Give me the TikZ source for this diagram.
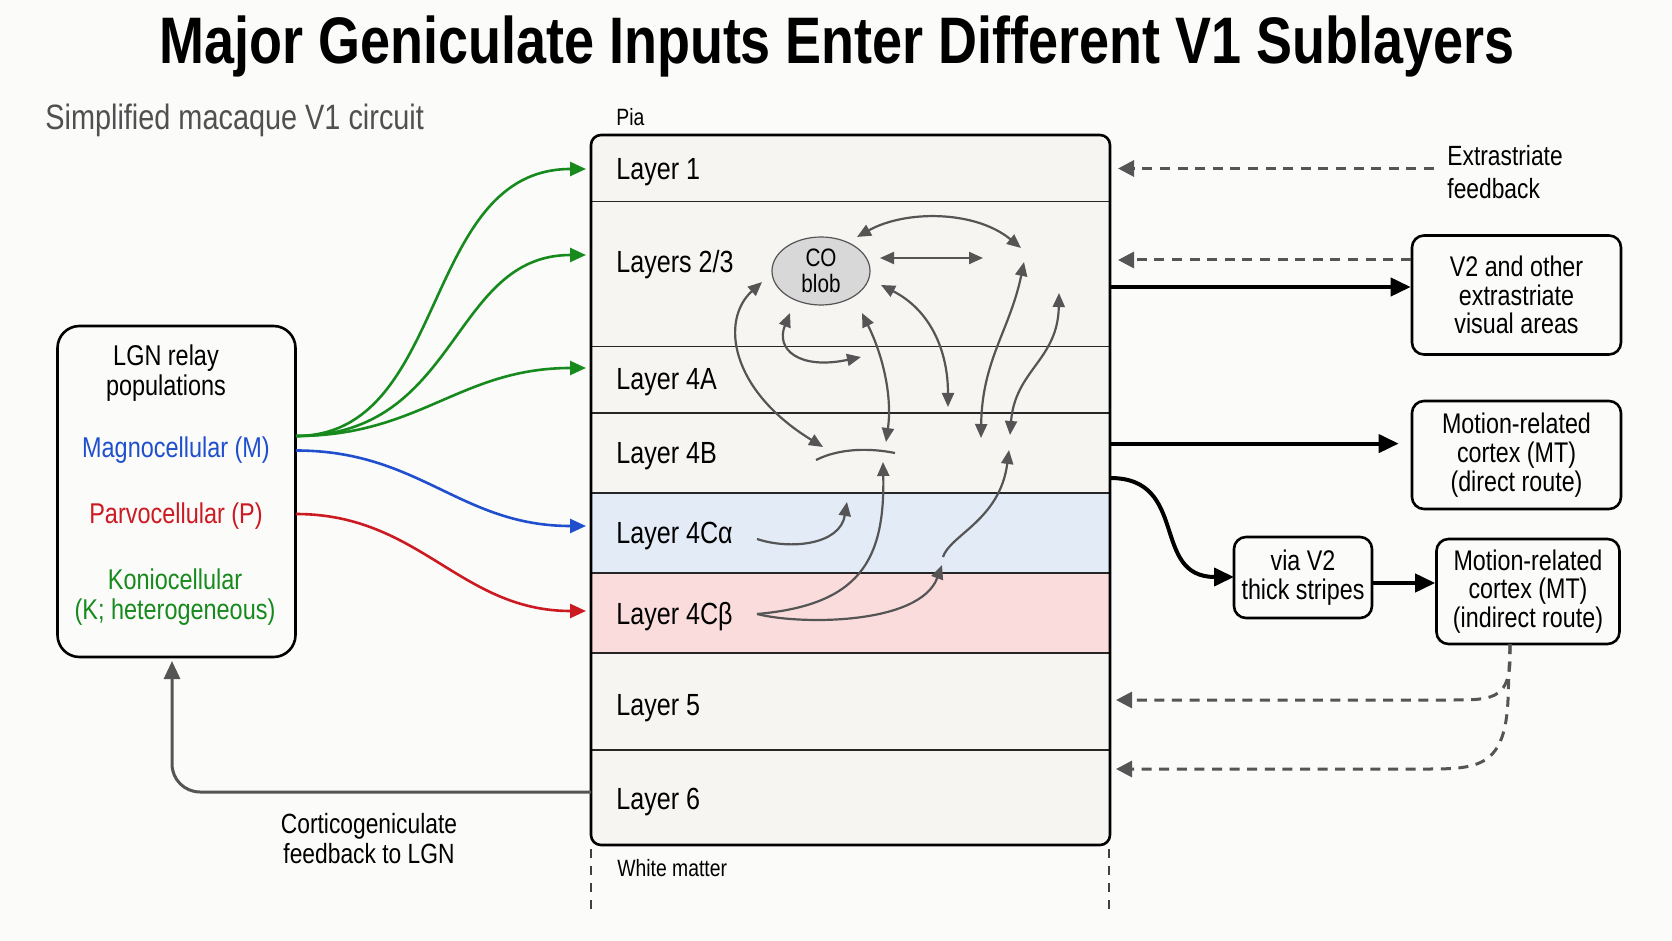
\documentclass[tikz,border=0pt]{standalone}
\usepackage{fontspec}
\setmainfont{Liberation Sans}[FakeStretch=0.82]
\usetikzlibrary{arrows.meta,shapes.geometric}
\definecolor{bgc}{HTML}{FBFBFA}
\definecolor{boxbg}{HTML}{F6F5F2}
\definecolor{alphac}{HTML}{E3EBF6}
\definecolor{betac}{HTML}{F9DCDB}
\definecolor{ggreen}{HTML}{178A1E}
\definecolor{gblue}{HTML}{1F4FCC}
\definecolor{gred}{HTML}{CC1A22}
\definecolor{agray}{HTML}{555555}
\definecolor{subgray}{HTML}{505050}
\definecolor{blobc}{HTML}{D8D8D8}
\begin{document}
\begin{tikzpicture}[x=0.5pt,y=-0.5pt,
 lay/.style={anchor=west, font=\fontsize{15.3}{18}\selectfont, inner sep=0},
 txt/.style={font=\fontsize{14.3}{15}\selectfont, align=center, inner sep=0},
 rbox/.style={draw, line width=1.3pt, rounded corners=6pt, align=center, inner sep=0, font=\fontsize{14.2}{14.4}\selectfont},
 inarr/.style={line width=1.3pt, shorten >=2.5pt, -{Triangle[length=8pt,width=7pt]}},
 garr/.style={draw=agray, line width=1.1pt, {Triangle[length=7pt,width=6pt]}-{Triangle[length=7pt,width=6pt]}},
 sarr/.style={draw=agray, line width=1.1pt, -{Triangle[length=7pt,width=6pt]}},
 barr/.style={line width=2pt, -{Triangle[length=10pt,width=9pt]}},
 darr/.style={draw=agray, line width=1.5pt, dash pattern=on 5pt off 3.8pt, -{Triangle[length=8pt,width=8pt]}},
]
\useasboundingbox[fill=bgc] (0,0) rectangle (1672,941);

% title
\node[font=\bfseries\fontsize{32.9}{40}\selectfont, inner sep=0] (title) at (837,46) {Major Geniculate Inputs Enter Different V1 Sublayers};
\node[anchor=west, font=\fontsize{17.6}{20}\selectfont, text=subgray, inner sep=0] (sub) at (45,120) {Simplified macaque V1 circuit};

% main column
\begin{scope}
\clip[rounded corners=5pt] (591,135) rectangle (1110,845);
\fill[boxbg] (591,135) rectangle (1110,845);
\fill[alphac] (591,492.6) rectangle (1110,572.6);
\fill[betac] (591,572.6) rectangle (1110,652.6);
\end{scope}
\foreach \yy in {201.5,346.5,412.7,492.6,572.6,652.6,749.6}
  \draw[line width=0.9pt, draw=black!85] (591,\yy) -- (1110,\yy);
\node[draw, line width=1.3pt, rounded corners=5pt, minimum width=259.5pt, minimum height=355pt, inner sep=0] (v1) at (850.5,490) {};

\node[anchor=west, font=\fontsize{11.8}{14}\selectfont, inner sep=0] (pia) at (616,117) {Pia};
\node[anchor=west, font=\fontsize{11.8}{14}\selectfont, inner sep=0] (wm) at (617,868) {White matter};
\draw[draw=black!75, line width=1.3pt, dash pattern=on 4.5pt off 4pt] (591,849) -- (591,914);
\draw[draw=black!75, line width=1.3pt, dash pattern=on 4.5pt off 4pt] (1109,849) -- (1109,914);

\node[lay] (L1) at (616,171.7) {Layer 1};
\node[lay] (L23) at (616,264.2) {Layers 2/3};
\node[lay] (L4A) at (616,381.7) {Layer 4A};
\node[lay] (L4B) at (616,456.2) {Layer 4B};
\node[lay] (L4Ca) at (616,536.2) {Layer 4Cα};
\node[lay] (L4Cb) at (616,616.2) {Layer 4Cβ};
\node[lay] (L5) at (616,708.2) {Layer 5};
\node[lay] (L6) at (616,801.8) {Layer 6};

% LGN box
\node[draw, line width=1.3pt, rounded corners=11pt, minimum width=119pt, minimum height=165.5pt, inner sep=0] (lgn) at (176.5,491.5) {};
\node[txt] (lgnt) at (166,373) {LGN relay\\populations};
\node[txt, text=gblue] (magno) at (176,450) {Magnocellular (M)};
\node[txt, text=gred] (parvo) at (176,516) {Parvocellular (P)};
\node[txt, text=ggreen] (konio) at (175,597) {Koniocellular\\(K; heterogeneous)};

% inputs
\coordinate (kS) at (296,436);
\coordinate (mS) at (296,450.5);
\coordinate (pS) at (296,514);
\coordinate (in1) at (591,169);
\coordinate (in23) at (591,255);
\coordinate (in4A) at (591,368);
\coordinate (in4Ca) at (591,526);
\coordinate (in4Cb) at (591,611);
\draw[inarr, draw=ggreen] (kS) .. controls (450,436) and (420,169) .. (in1);
\draw[inarr, draw=ggreen] (kS) .. controls (460,436) and (450,255) .. (in23);
\draw[inarr, draw=ggreen] (kS) .. controls (420,436) and (460,368) .. (in4A);
\draw[inarr, draw=gblue] (mS) .. controls (420,450.5) and (460,526) .. (in4Ca);
\draw[inarr, draw=gred] (pS) .. controls (420,514) and (460,611) .. (in4Cb);

% corticogeniculate feedback
\coordinate (cgS) at (591,792);
\coordinate (cgE) at (172,661);
\draw[draw=agray, line width=1.5pt, rounded corners=14pt, -{Triangle[length=9pt,width=8pt]}] (cgS) -- (cgE |- cgS) -- (cgE);
\node[txt, font=\fontsize{13.9}{15}\selectfont] (cg) at (369,839) {Corticogeniculate\\feedback to LGN};

% CO blob and intracortical arrows
\node[ellipse, draw=agray, line width=0.6pt, fill=blobc, minimum width=49pt, minimum height=34pt, inner sep=0, align=center, font=\fontsize{12.6}{13}\selectfont] (blob) at (821,271) {CO\\blob};
\draw[garr] (857,237) .. controls (905,210) and (975,210) .. (1021,248);
\draw[garr] (880,258) -- (983,258);
\draw[garr] (1024,262) .. controls (1010,330) and (982,360) .. (981,438);
\draw[garr] (1059,293) .. controls (1058,360) and (1015,370) .. (1010,435);
\draw[garr] (881,285) .. controls (930,310) and (948,350) .. (948,407);
\draw[garr] (862,313) .. controls (885,360) and (892,400) .. (886,442);
\draw[garr] (790,313) .. controls (775,350) and (800,370) .. (861,357);
\draw[garr] (762,282) .. controls (720,320) and (730,390) .. (823,447);
\draw[draw=agray, line width=1.1pt] (816,460) .. controls (840,448) and (870,448) .. (895,453);
\draw[sarr] (757,539) .. controls (790,550) and (840,545) .. (847,502);
\draw[sarr] (757,614) .. controls (860,605) and (885,560) .. (883,462);
\draw[sarr] (757,614) .. controls (800,625) and (920,625) .. (942,565);
\draw[sarr] (943,557) .. controls (950,535) and (1000,520) .. (1009,450);

% right side boxes
\node[rbox, minimum width=104.5pt, minimum height=59.5pt] (v2) at (1516.5,295) {V2 and other\\extrastriate\\visual areas};
\node[rbox, minimum width=104.5pt, minimum height=54pt] (mtd) at (1516.5,455) {Motion-related\\cortex (MT)\\(direct route)};
\node[rbox, minimum width=69pt, minimum height=40.5pt] (via) at (1303,577.5) {via V2\\thick stripes};
\node[rbox, minimum width=91.5pt, minimum height=52.5pt] (mti) at (1528,591.5) {Motion-related\\cortex (MT)\\(indirect route)};
\node[anchor=west, align=left, inner sep=0, font=\fontsize{13.9}{16.5}\selectfont] (ef) at (1447,172) {Extrastriate\\feedback};

% outputs
\coordinate (o1) at (1110,287);
\coordinate (o2) at (1110,443.6);
\coordinate (o3) at (1110,478);
\draw[barr] (o1) -- (v2.west |- o1);
\draw[barr, shorten >=6pt] (o2) -- (mtd.west |- o2);
\coordinate (viaIn) at (1234,577);
\draw[barr] (o3) .. controls (1190,478) and (1150,577) .. (viaIn);
\coordinate (vo) at (1372,583);
\draw[barr] (vo) -- (mti.west |- vo);

% feedback (dashed)
\coordinate (efS) at (1434,168.5);
\coordinate (fb1) at (1118,168.5);
\draw[darr] (efS) -- (fb1);
\coordinate (fb23) at (1118,260);
\draw[darr] (v2.west |- fb23) -- (fb23);
\coordinate (mtiS) at (1510,644);
\coordinate (fb5) at (1116,700);
\coordinate (fb6) at (1116,769);
\draw[darr] (mtiS) -- (1510,662) .. controls (1508,700) and (1490,700) .. (1450,700) -- (fb5);
\draw[darr] (mtiS) -- (1508,700) .. controls (1505,765) and (1480,769) .. (1430,769) -- (fb6);
\end{tikzpicture}
\end{document}
